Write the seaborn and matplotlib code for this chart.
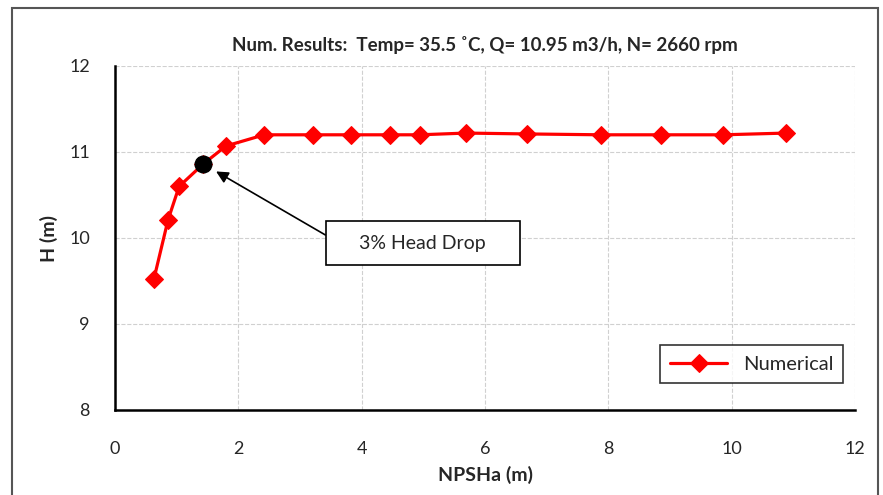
import numpy as np
import pandas as pd
import seaborn as sns
import matplotlib.pyplot as plt
from matplotlib.patches import Rectangle
from matplotlib.ticker import MultipleLocator

# NPSHa (m) and head (m)
npsha = [0.63, 0.86, 1.04, 1.43, 1.80, 2.42, 3.21, 3.83, 4.46, 4.94, 5.69, 6.68, 7.88, 8.85, 9.86, 10.88]
head = [9.52, 10.21, 10.60, 10.86, 11.07, 11.20, 11.20, 11.20, 11.20, 11.20, 11.22, 11.21, 11.20, 11.20, 11.20, 11.22]

# 3% head drop point
drop_x = [1.43]
drop_y = [10.86]

df = pd.DataFrame({'NPSHa': npsha, 'H': head})

sns.set_style('white')
plt.rcParams['font.family'] = ['Lato', 'DejaVu Sans']

fig = plt.figure(figsize=(8.83, 4.95), dpi=100)
ax = fig.add_axes([115 / 883, 1 - 410 / 495, 740 / 883, 344 / 495])

sns.lineplot(data=df, x='NPSHa', y='H', ax=ax, color='red', linewidth=2.3,
             marker='D', markersize=9, markeredgecolor='red', label='Numerical')
ax.plot(drop_x, drop_y, 'o', color='black', markersize=12, zorder=5)

ax.set_xlim(0, 12)
ax.set_ylim(8, 12)
ax.xaxis.set_major_locator(MultipleLocator(2))
ax.xaxis.set_minor_locator(MultipleLocator(1))
ax.yaxis.set_major_locator(MultipleLocator(1))
ax.yaxis.set_minor_locator(MultipleLocator(0.5))

ax.grid(True, which='major', linestyle='--', color='#d0d0d0', linewidth=0.8)
for side in ['top', 'right']:
    ax.spines[side].set_visible(False)
for side in ['left', 'bottom']:
    ax.spines[side].set_color('black')
    ax.spines[side].set_linewidth(1.8)

ax.tick_params(axis='both', which='both', direction='in', color='black', width=1.5)
ax.tick_params(axis='both', which='major', length=6, labelsize=13)
ax.tick_params(axis='both', which='minor', length=6)
ax.tick_params(axis='x', which='major', pad=22)
ax.tick_params(axis='y', which='major', pad=18)

ax.set_xlabel('NPSHa (m)', fontsize=14, fontweight='bold', labelpad=7)
ax.set_ylabel('H (m)', fontsize=14, fontweight='bold', labelpad=8)
ax.set_title('Num. Results:  Temp= 35.5 ˚C, Q= 10.95 m3/h, N= 2660 rpm',
             fontsize=13.5, fontweight='bold', pad=11)

ax.annotate('    3% Head Drop    ', xy=(1.6, 10.79), xytext=(3.64, 9.94),
            fontsize=14, ha='left', va='center',
            bbox=dict(boxstyle='square,pad=0.7', fc='white', ec='black', lw=1.2),
            arrowprops=dict(arrowstyle='-|>', color='black', lw=1.2,
                            mutation_scale=18, relpos=(0, 0.5), shrinkA=0))

leg = ax.legend(loc='lower right', bbox_to_anchor=(0.998, 0.05), fontsize=14.5,
                frameon=True, fancybox=False, handlelength=2.8, borderpad=0.5)
leg.get_frame().set_edgecolor('black')
leg.get_frame().set_linewidth(1.2)

fig.patches.append(Rectangle((12 / 883, -0.05), 866 / 883, 1 - 8 / 495 + 0.05,
                             transform=fig.transFigure, fill=False,
                             ec='#555555', lw=1.5))

fig.savefig('out.png', dpi=100)
